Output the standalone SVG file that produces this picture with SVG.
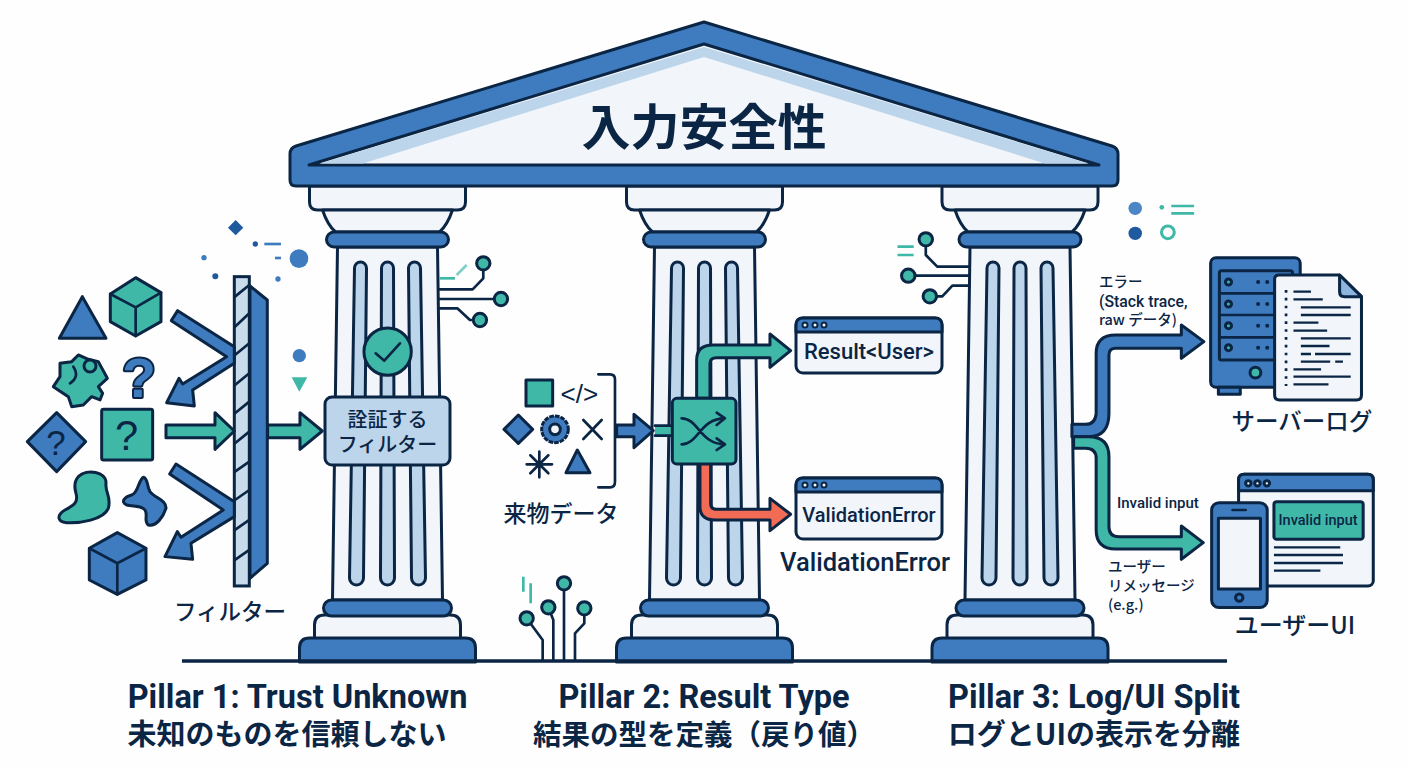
<svg xmlns="http://www.w3.org/2000/svg" width="1408" height="768" viewBox="0 0 1408 768">
<style>
.p{stroke:#0b2545;stroke-width:3;stroke-linejoin:round;fill:#f2f6fb}
.b{stroke:#0b2545;stroke-width:3;stroke-linejoin:round;fill:#3f7cbf}
.f{stroke:#0b2545;stroke-width:3;fill:#bcd5ea;stroke-linejoin:round}
.zb{stroke:#0b2545;stroke-width:9;stroke-linejoin:round;fill:#3f7cbf}
.zt{stroke:#0b2545;stroke-width:9;stroke-linejoin:round;fill:#3fb8a8}
.zp{stroke:#0b2545;stroke-width:9;stroke-linejoin:round;fill:#f2f6fb}
.zl{stroke:#0b2545;stroke-width:8;fill:none;stroke-linejoin:round;stroke-linecap:round}
.zr{stroke:#0b2545;stroke-width:9;stroke-linejoin:round;fill:#f26b55}
.zd{stroke:#3fb8a8;stroke-width:8;fill:none}
.jp{font-family:"Noto Sans CJK JP","Noto Sans",sans-serif;fill:#0b2545;font-weight:500}
.en{font-family:"Roboto","Noto Sans CJK JP",sans-serif;fill:#0b2545;font-weight:500}
.hd{font-family:"Roboto","Noto Sans CJK JP",sans-serif;fill:#0b2545;font-weight:700;font-size:32.500px;text-anchor:middle}
.hj{font-family:"Noto Sans CJK JP",sans-serif;fill:#0b2545;font-weight:700;font-size:29px;text-anchor:middle}
.m{text-anchor:middle}
</style>
<defs>
<g id="pillar">
<path class="p" d="M-78,186H78V202Q78,210 70,210H-70Q-78,210 -78,202Z"/>
<path class="p" d="M-65,210Q-60,225 -52,232H52Q60,225 65,210Z"/>
<path class="p" d="M-50,247H50L55,600H-55Z"/>
<path class="f" d="M-33,268a6,6 0 0 1 12,0L-24,578a7,7 0 0 1 -14,0Z"/>
<path class="f" d="M-6,268a6,6 0 0 1 12,0L7,578a7,7 0 0 1 -14,0Z"/>
<path class="f" d="M21,268a6,6 0 0 1 12,0L38,578a7,7 0 0 1 -14,0Z"/>
<rect class="b" x="-61" y="232" width="122" height="15" rx="7.500"/>
<path class="p" d="M-73,640V625Q-73,615 -63,615H63Q73,615 73,625V640Z"/>
<rect class="b" x="-64" y="600" width="128" height="16" rx="8"/>
<path class="b" d="M-88,662V648Q-88,638 -78,638H78Q88,638 88,648V662Z"/>
</g>
</defs>
<rect width="1408" height="768" fill="#fefefe"/>

<g id="pillar-1"><use href="#pillar" x="387.500"/></g>
<g id="pillar-2"><use href="#pillar" x="704.500"/></g>
<g id="pillar-3"><use href="#pillar" x="1020"/></g>

<g id="roof">
<path class="b" d="M704,22L1112,146Q1118,148 1118,154V180Q1118,186 1112,186H296Q290,186 290,180V154Q290,148 296,146Z"/>
<path class="p" d="M704,44L1099,165H309Z"/>
<path fill="#bcd5ea" d="M704,47L1088,163.500H1045L704,57L363,163.500H320Z"/>
<text class="jp m" x="704" y="145" font-size="49" style="font-weight:700">入力安全性</text>
</g>
<path id="ground" d="M182,661H1227" stroke="#0b2545" stroke-width="3.500" fill="none"/>

<g id="unknown-shapes" transform="translate(0 200) scale(.3333)">
<path class="zb" d="M247,290L318,415H178Z"/>
<path class="zt" d="M407,233L483,278V365L407,408L331,365V282Z"/>
<path class="zl" d="M331,282L407,322L483,278M407,322V408"/>
<path class="zt" d="M235,465L215,485L180,490L180,530L160,560L205,590L215,620L250,615L275,590L300,600L308,580L295,560L322,535L295,485L265,478Z"/>
<circle class="zt" cx="270" cy="498" r="18"/>
<path class="zl" d="M220,500Q240,530 210,550"/>
<text x="417" y="590" font-size="165" class="m" font-family="Liberation Sans,sans-serif" font-weight="700" fill="#3f7cbf" stroke="#0b2545" stroke-width="12" paint-order="stroke" stroke-linejoin="round">?</text>
<rect class="zt" x="305" y="628" width="153" height="152" rx="6"/>
<text x="380" y="750" font-size="125" class="m" font-family="Liberation Sans,sans-serif" fill="#0b2545">?</text>
<path class="zb" d="M170,638L257,725L170,815L82,725Z"/>
<text x="168" y="765" font-size="105" class="m" font-family="Liberation Sans,sans-serif" fill="#0b2545">?</text>
<path class="zt" d="M235,830C260,805 320,815 318,850C315,880 335,890 325,925C310,960 240,970 200,968C170,965 170,945 195,930C225,915 235,905 228,880C222,860 222,845 235,830Z"/>
<path class="zb" d="M430,832C445,835 440,860 450,875C465,895 500,900 498,925C490,950 470,980 445,975C430,965 445,945 435,930C425,915 400,920 380,915C360,905 375,890 395,885C415,880 415,840 430,832Z"/>
<path class="zb" d="M352,998L438,1045V1140L352,1183L268,1140V1045Z"/>
<path class="zl" d="M268,1045L352,1090L438,1045M352,1090V1183"/>
</g>

<g id="filter" transform="translate(0 200) scale(.3333)">
<path class="zb" d="M750,258L802,300V1090L750,1135Z"/>
<rect x="703" y="230" width="45" height="928" fill="#c8dcec" stroke="#0b2545" stroke-width="9"/>
<path class="zl" d="M705,290L748,255M705,380L748,340M705,465L748,430M705,555L748,520M705,640L748,605M705,730L748,695M705,815L748,785M705,900L748,870M705,990L748,960M705,1080L748,1050"/>
<path fill="#1f5a9e" d="M707,60L730,83L707,106L684,83Z"/>
<circle cx="766" cy="132" r="8" fill="#1f5a9e"/><path d="M793,132H843" stroke="#3f7cbf" stroke-width="8"/>
<circle cx="612" cy="173" r="8" fill="#3f7cbf"/><path d="M825,174H843" stroke="#3f7cbf" stroke-width="8"/>
<circle cx="897" cy="176" r="28" fill="#3f7cbf"/>
<circle cx="646" cy="229" r="9" fill="#1f5a9e"/><circle cx="834" cy="237" r="8" fill="#3f7cbf"/>
<circle cx="898" cy="467" r="20" fill="#3f7cbf"/><path fill="#3fb8a8" d="M875,532H922L898,575Z"/>
</g>
<text class="jp m" x="230" y="620" font-size="22.500">フィルター</text>

<g id="connectors">
<g transform="translate(0 200) scale(.3333)">
<path id="c-reject-1" class="zb" d="M533,332L703,440V490L578,570L583,618L500,608L537,535L548,552L680,470L514,362Z"/>
<path id="c-reject-2" class="zb" d="M528,792L703,905V950L573,1030L578,1078L495,1070L532,995L543,1012L670,930L509,822Z"/>
<path id="c-pass-1" class="zt" d="M498,675H645V638L703,693L645,748V713H498Z"/>
<path id="c-pass-2" class="zt" d="M803,675H900V638L967,693L900,748V713H803Z"/>
</g>
<g transform="translate(480 280) scale(.3333)">
<rect x="525" y="437" width="60" height="30" fill="#3fb8a8"/>
<path class="zl" d="M525,437H585M525,467H585"/>
<path id="c-in" class="zb" d="M410,435H462V403L520,452L462,503V470H410Z"/>
<path id="c-ok" class="zt" d="M650,355V240Q650,195 700,195H870V162L932,212L870,262V233H710Q690,233 690,250V355Z"/>
<path id="c-err" class="zr" d="M660,550V680Q660,720 705,720H870V752L932,703L870,655V688H710Q692,688 692,670V550Z"/>
</g>
<g transform="translate(880 180) scale(.3367 .3333)">
<path id="c-log" class="zb" d="M570,733H610Q640,733 642,700V520Q642,465 700,465H895V435L962,485L895,535V505H700Q680,505 680,525V700Q680,770 620,770H570Z"/>
<path id="c-ui" class="zt" d="M575,770H620Q680,770 680,830V1040Q680,1070 710,1070H895V1038L960,1088L895,1138V1107H700Q642,1107 642,1050V835Q642,805 610,805H575Z"/>
</g>
</g>

<g id="check-badge" transform="translate(0 200) scale(.3333)">
<circle class="zt" cx="1163" cy="455" r="71"/>
<path class="zl" d="M1127,460L1153,482L1200,430" stroke-width="10"/>
</g>
<g id="filter-box">
<rect x="325" y="397" width="125" height="68" rx="7" class="f"/>
<text class="jp m" x="387.500" y="427" font-size="20">詮証する</text>
<text class="jp m" x="387.500" y="452" font-size="20">フィルター</text>
</g>
<g id="circuit-1" transform="translate(0 200) scale(.3333)">
<path class="zl" d="M1315,268H1418L1450,235V205M1315,297H1485M1315,325H1372L1410,360H1420"/>
<circle class="zt" cx="1450" cy="190" r="20"/><circle class="zt" cx="1503" cy="297" r="20"/><circle class="zt" cx="1440" cy="360" r="20"/>
<path class="zd" d="M1318,235H1365"/><path d="M1370,225L1400,195" stroke="#7fd0c6" stroke-width="8"/>
</g>

<g id="incoming-data" transform="translate(480 280) scale(.3333)">
<path class="zl" d="M355,283H390Q405,283 405,298V605Q405,622 390,622H355"/>
<rect class="zt" x="138" y="300" width="80" height="78"/>
<text x="298" y="368" font-size="78" class="m" font-family="Liberation Sans,sans-serif" fill="#0b2545">&lt;/&gt;</text>
<path class="zb" d="M115,405L158,448L115,490L72,448Z"/>
<circle class="zb" cx="225" cy="448" r="40" stroke-dasharray="14 3"/>
<circle class="zp" cx="225" cy="448" r="16"/>
<path class="zl" d="M310,420L365,477M365,420L310,477"/>
<path class="zl" d="M178,515V592M140,553H216M151,526L205,580M205,526L151,580" stroke-width="9"/>
<path class="zb" d="M292,510L330,578H258Z"/>
</g>
<text class="jp m" x="561" y="522" font-size="23">来物データ</text>

<g id="switch" transform="translate(480 280) scale(.3333)">
<rect class="zt" x="577" y="355" width="191" height="197" rx="14"/>
<path class="zl" d="M605,415C655,415 660,493 735,493M605,493C655,493 660,415 735,415M710,398L735,415L710,435M710,475L735,493L710,510"/>
</g>

<g id="result-box">
<rect class="p" x="796" y="318" width="146" height="55" rx="7"/>
<path class="b" d="M796,332V325Q796,318 803,318H935Q942,318 942,325V332Z"/>
<g class="p"><circle cx="805" cy="325" r="2.500" style="stroke-width:2"/><circle cx="815" cy="325" r="2.500" style="stroke-width:2"/><circle cx="824" cy="325" r="2.500" style="stroke-width:2"/></g>
<text class="en m" x="869" y="359" font-size="22">Result&lt;User&gt;</text>
</g>
<g id="error-box">
<rect class="p" x="796" y="478" width="146" height="61" rx="7"/>
<path class="b" d="M796,492V485Q796,478 803,478H935Q942,478 942,485V492Z"/>
<g class="p"><circle cx="805" cy="485" r="2.500" style="stroke-width:2"/><circle cx="815" cy="485" r="2.500" style="stroke-width:2"/><circle cx="824" cy="485" r="2.500" style="stroke-width:2"/></g>
<text class="en m" x="869" y="522" font-size="20">ValidationError</text>
</g>
<text class="en m" x="865" y="571" font-size="25.500">ValidationError</text>

<g id="circuit-2" transform="translate(480 280) scale(.3333)">
<path class="zl" d="M140,1015L188,1080V1140M205,982L220,1020V1140M252,910V1140M313,985V1030L285,1060V1140"/>
<circle class="zt" cx="140" cy="1015" r="20"/><circle class="zt" cx="205" cy="982" r="20"/><circle class="zt" cx="252" cy="910" r="20"/><circle class="zt" cx="313" cy="985" r="20"/>
<path class="zd" d="M130,890V935M152,910V970"/>
</g>

<g id="circuit-3" transform="translate(880 180) scale(.3367 .3333)">
<path class="zl" d="M265,260H170L136,225V195M265,287H100M265,317H215L185,349H165"/>
<circle class="zt" cx="136" cy="178" r="20"/><circle class="zt" cx="84" cy="287" r="20"/><circle class="zt" cx="148" cy="349" r="20"/>
<path class="zd" d="M52,200H100M52,225H100"/>
<circle cx="758" cy="85" r="20" fill="#4d86c4"/><circle cx="758" cy="160" r="20" fill="#1f5a9e"/>
<circle cx="837" cy="82" r="7" fill="#3fb8a8"/><path class="zd" d="M865,78H933M865,100H933"/>
<circle cx="855" cy="157" r="19" fill="none" stroke="#3fb8a8" stroke-width="9"/>
</g>

<g id="server-log" transform="translate(880 180) scale(.3367 .3333)">
<rect class="zb" x="982" y="233" width="266" height="389" rx="16"/>
<rect class="zb" x="1005" y="622" width="65" height="21"/>
<rect class="zb" x="1008" y="272" width="217" height="268" rx="6"/>
<path class="zl" d="M1008,340H1225M1008,405H1225M1008,472H1225"/>
<g class="zt"><circle cx="1035" cy="306" r="9"/><circle cx="1035" cy="372" r="9"/><circle cx="1035" cy="437" r="9"/><circle cx="1035" cy="503" r="9"/><circle cx="1115" cy="578" r="16"/></g>
<g fill="#0b2545"><circle cx="1123" cy="306" r="6"/><circle cx="1150" cy="306" r="6"/><circle cx="1123" cy="372" r="6"/><circle cx="1150" cy="372" r="6"/><circle cx="1123" cy="437" r="6"/><circle cx="1150" cy="437" r="6"/><circle cx="1123" cy="503" r="6"/><circle cx="1150" cy="503" r="6"/></g>
<path class="zp" d="M1185,285H1365L1430,350V645Q1430,660 1415,660H1187Q1172,660 1172,645V298Q1172,285 1185,285Z"/>
<path class="zb" style="fill:#8db6df" d="M1365,285L1430,350H1380Q1365,350 1365,335Z"/>
<path d="M1206,330V618" stroke="#0b2545" stroke-width="8" stroke-dasharray="8 15.500"/>
<path stroke="#0b2545" stroke-width="7" fill="none" d="M1228,335H1280M1228,358H1315M1250,382H1398M1250,405H1398M1228,428H1302M1228,452H1328M1250,475H1398M1250,498H1335M1250,522H1280M1292,522H1398M1250,545H1337M1352,545H1375M1228,568H1310M1228,590H1398M1228,613H1332"/>
</g>
<text class="jp m" x="1302" y="430" font-size="23.500">サーバーログ</text>

<g id="user-ui" transform="translate(880 180) scale(.3367 .3333)">
<rect class="zp" x="1065" y="883" width="400" height="335" rx="16"/>
<path class="zb" d="M1065,932V899Q1065,883 1081,883H1449Q1465,883 1465,899V932Z"/>
<g class="zp"><circle cx="1094" cy="910" r="8"/><circle cx="1121" cy="910" r="8"/><circle cx="1149" cy="910" r="8"/></g>
<rect class="zt" x="1170" y="965" width="265" height="113" rx="8"/>
<path stroke="#0b2545" stroke-width="7" fill="none" d="M1170,1102H1367M1170,1125H1375M1170,1149H1375M1170,1172H1308"/>
<rect class="zb" x="985" y="968" width="165" height="315" rx="22"/>
<rect class="zp" x="1005" y="1015" width="125" height="212"/>
<path class="zl" d="M1047,990H1086"/>
<circle class="zb" cx="1067" cy="1253" r="11"/>
</g>
<text class="en m" x="1318" y="525" font-size="14.500">Invalid input</text>
<text class="jp m" x="1295" y="634" font-size="24">ユーザーUI</text>

<g id="labels">
<text class="jp" x="1099" y="287" font-size="14.500">エラー</text>
<text class="en" x="1099" y="307" font-size="15.800">(Stack trace,</text>
<text class="jp" x="1099" y="325" font-size="14.500">raw データ)</text>
<text class="en" x="1117" y="508" font-size="15">Invalid input</text>
<text class="jp" x="1108" y="572" font-size="14.500">ユーザー</text>
<text class="jp" x="1108" y="591" font-size="14.500">リメッセージ</text>
<text class="jp" x="1108" y="610" font-size="14.500">(e.g.)</text>
</g>

<g id="captions">
<text class="hd" x="297.500" y="708">Pillar 1: Trust Unknown</text>
<text class="hj" x="287" y="745">未知のものを信頼しない</text>
<text class="hd" x="704" y="708">Pillar 2: Result Type</text>
<text class="hj" x="704" y="745" style="font-size:28.500px">結果の型を定義（戻り値）</text>
<text class="hd" x="1094" y="708">Pillar 3: Log/UI Split</text>
<text class="hj" x="1094" y="745">ログとUIの表示を分離</text>
</g>
</svg>
